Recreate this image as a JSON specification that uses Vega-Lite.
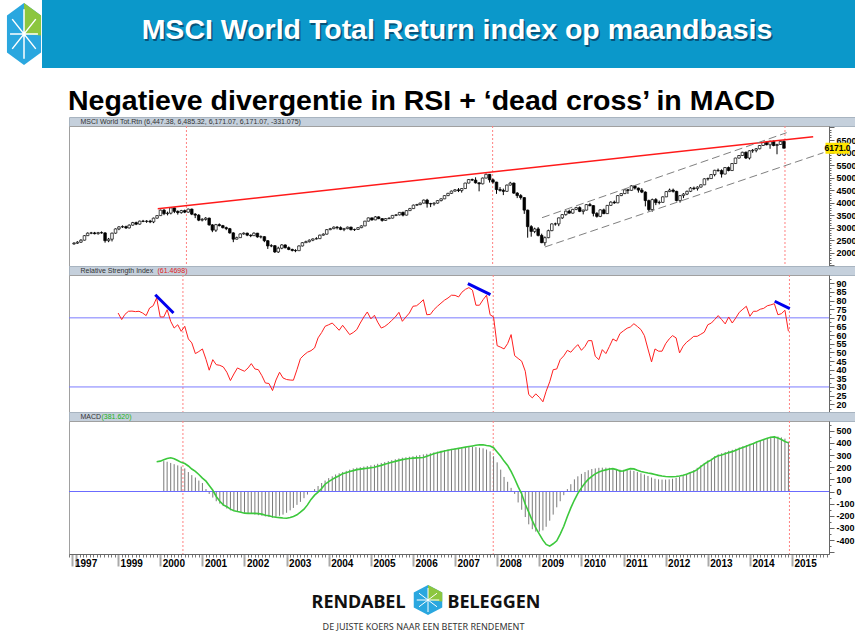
{
"$schema": "https://vega.github.io/schema/vega-lite/v6.json",
"padding": 0,
"background": "white",
"config": {"view": {"stroke": null}, "text": {"font": "Liberation Sans"}, "axis": {"labelFont": "Liberation Sans"}},
"datasets": {
"px": [
{"d":"1997/11/01","o":2350,"c":2380,"h":2420,"l":2320},{"d":"1997/12/01","o":2380,"c":2420,"h":2460,"l":2350},
{"d":"1998/01/01","o":2420,"c":2500,"h":2540,"l":2390},{"d":"1998/02/01","o":2500,"c":2680,"h":2700,"l":2490},{"d":"1998/03/01","o":2680,"c":2780,"h":2810,"l":2670},{"d":"1998/04/01","o":2780,"c":2790,"h":2830,"l":2740},{"d":"1998/05/01","o":2790,"c":2760,"h":2830,"l":2730},{"d":"1998/06/01","o":2760,"c":2800,"h":2830,"l":2720},{"d":"1998/07/01","o":2800,"c":2790,"h":2850,"l":2760},{"d":"1998/08/01","o":2790,"c":2480,"h":2820,"l":2400},{"d":"1998/09/01","o":2480,"c":2540,"h":2590,"l":2420},{"d":"1998/10/01","o":2540,"c":2780,"h":2800,"l":2450},{"d":"1998/11/01","o":2780,"c":2950,"h":2970,"l":2760},{"d":"1998/12/01","o":2950,"c":3030,"h":3060,"l":2900},
{"d":"1999/01/01","o":3030,"c":3040,"h":3090,"l":2990},{"d":"1999/02/01","o":3040,"c":2990,"h":3080,"l":2950},{"d":"1999/03/01","o":2990,"c":3100,"h":3130,"l":2970},{"d":"1999/04/01","o":3100,"c":3200,"h":3230,"l":3080},{"d":"1999/05/01","o":3200,"c":3140,"h":3240,"l":3100},{"d":"1999/06/01","o":3140,"c":3260,"h":3280,"l":3120},{"d":"1999/07/01","o":3260,"c":3250,"h":3310,"l":3220},{"d":"1999/08/01","o":3250,"c":3260,"h":3300,"l":3190},{"d":"1999/09/01","o":3260,"c":3230,"h":3310,"l":3180},{"d":"1999/10/01","o":3230,"c":3380,"h":3400,"l":3180},{"d":"1999/11/01","o":3380,"c":3480,"h":3500,"l":3360},{"d":"1999/12/01","o":3480,"c":3700,"h":3720,"l":3470},
{"d":"2000/01/01","o":3700,"c":3560,"h":3740,"l":3500},{"d":"2000/02/01","o":3560,"c":3580,"h":3640,"l":3490},{"d":"2000/03/01","o":3580,"c":3790,"h":3820,"l":3530},{"d":"2000/04/01","o":3790,"c":3650,"h":3800,"l":3580},{"d":"2000/05/01","o":3650,"c":3600,"h":3690,"l":3520},{"d":"2000/06/01","o":3600,"c":3680,"h":3710,"l":3560},{"d":"2000/07/01","o":3680,"c":3620,"h":3720,"l":3580},{"d":"2000/08/01","o":3620,"c":3740,"h":3760,"l":3600},{"d":"2000/09/01","o":3740,"c":3540,"h":3760,"l":3500},{"d":"2000/10/01","o":3540,"c":3500,"h":3580,"l":3380},{"d":"2000/11/01","o":3500,"c":3300,"h":3540,"l":3260},{"d":"2000/12/01","o":3300,"c":3330,"h":3380,"l":3250},
{"d":"2001/01/01","o":3330,"c":3380,"h":3420,"l":3280},{"d":"2001/02/01","o":3380,"c":3110,"h":3400,"l":3080},{"d":"2001/03/01","o":3110,"c":2900,"h":3140,"l":2820},{"d":"2001/04/01","o":2900,"c":3120,"h":3150,"l":2830},{"d":"2001/05/01","o":3120,"c":3080,"h":3170,"l":3050},{"d":"2001/06/01","o":3080,"c":3000,"h":3110,"l":2970},{"d":"2001/07/01","o":3000,"c":2960,"h":3040,"l":2900},{"d":"2001/08/01","o":2960,"c":2790,"h":2990,"l":2760},{"d":"2001/09/01","o":2790,"c":2540,"h":2820,"l":2420},{"d":"2001/10/01","o":2540,"c":2600,"h":2640,"l":2530},{"d":"2001/11/01","o":2600,"c":2750,"h":2770,"l":2590},{"d":"2001/12/01","o":2750,"c":2780,"h":2810,"l":2720},
{"d":"2002/01/01","o":2780,"c":2700,"h":2800,"l":2660},{"d":"2002/02/01","o":2700,"c":2680,"h":2730,"l":2620},{"d":"2002/03/01","o":2680,"c":2780,"h":2810,"l":2670},{"d":"2002/04/01","o":2780,"c":2630,"h":2790,"l":2600},{"d":"2002/05/01","o":2630,"c":2640,"h":2690,"l":2570},{"d":"2002/06/01","o":2640,"c":2480,"h":2660,"l":2420},{"d":"2002/07/01","o":2480,"c":2270,"h":2500,"l":2150},{"d":"2002/08/01","o":2270,"c":2280,"h":2340,"l":2220},{"d":"2002/09/01","o":2280,"c":2030,"h":2300,"l":1990},{"d":"2002/10/01","o":2030,"c":2180,"h":2240,"l":1990},{"d":"2002/11/01","o":2180,"c":2310,"h":2340,"l":2140},{"d":"2002/12/01","o":2310,"c":2200,"h":2330,"l":2170},
{"d":"2003/01/01","o":2200,"c":2130,"h":2250,"l":2100},{"d":"2003/02/01","o":2130,"c":2090,"h":2160,"l":2050},{"d":"2003/03/01","o":2090,"c":2080,"h":2140,"l":2020},{"d":"2003/04/01","o":2080,"c":2270,"h":2290,"l":2070},{"d":"2003/05/01","o":2270,"c":2400,"h":2420,"l":2250},{"d":"2003/06/01","o":2400,"c":2440,"h":2480,"l":2390},{"d":"2003/07/01","o":2440,"c":2500,"h":2530,"l":2410},{"d":"2003/08/01","o":2500,"c":2550,"h":2570,"l":2460},{"d":"2003/09/01","o":2550,"c":2560,"h":2620,"l":2530},{"d":"2003/10/01","o":2560,"c":2700,"h":2720,"l":2550},{"d":"2003/11/01","o":2700,"c":2740,"h":2770,"l":2680},{"d":"2003/12/01","o":2740,"c":2920,"h":2940,"l":2730},
{"d":"2004/01/01","o":2920,"c":2960,"h":2990,"l":2900},{"d":"2004/02/01","o":2960,"c":3020,"h":3050,"l":2940},{"d":"2004/03/01","o":3020,"c":3000,"h":3060,"l":2930},{"d":"2004/04/01","o":3000,"c":2930,"h":3050,"l":2900},{"d":"2004/05/01","o":2930,"c":2960,"h":2990,"l":2860},{"d":"2004/06/01","o":2960,"c":3020,"h":3040,"l":2940},{"d":"2004/07/01","o":3020,"c":2920,"h":3040,"l":2890},{"d":"2004/08/01","o":2920,"c":2930,"h":2960,"l":2870},{"d":"2004/09/01","o":2930,"c":3000,"h":3020,"l":2910},{"d":"2004/10/01","o":3000,"c":3070,"h":3090,"l":2980},{"d":"2004/11/01","o":3070,"c":3260,"h":3270,"l":3060},{"d":"2004/12/01","o":3260,"c":3390,"h":3400,"l":3250},
{"d":"2005/01/01","o":3390,"c":3310,"h":3400,"l":3280},{"d":"2005/02/01","o":3310,"c":3430,"h":3460,"l":3300},{"d":"2005/03/01","o":3430,"c":3360,"h":3450,"l":3340},{"d":"2005/04/01","o":3360,"c":3290,"h":3380,"l":3240},{"d":"2005/05/01","o":3290,"c":3360,"h":3380,"l":3270},{"d":"2005/06/01","o":3360,"c":3380,"h":3410,"l":3340},{"d":"2005/07/01","o":3380,"c":3490,"h":3500,"l":3370},{"d":"2005/08/01","o":3490,"c":3510,"h":3540,"l":3460},{"d":"2005/09/01","o":3510,"c":3610,"h":3620,"l":3490},{"d":"2005/10/01","o":3610,"c":3500,"h":3640,"l":3450},{"d":"2005/11/01","o":3500,"c":3680,"h":3700,"l":3490},{"d":"2005/12/01","o":3680,"c":3760,"h":3790,"l":3670},
{"d":"2006/01/01","o":3760,"c":3900,"h":3920,"l":3750},{"d":"2006/02/01","o":3900,"c":3920,"h":3950,"l":3870},{"d":"2006/03/01","o":3920,"c":3980,"h":4000,"l":3900},{"d":"2006/04/01","o":3980,"c":4100,"h":4120,"l":3970},{"d":"2006/05/01","o":4100,"c":3960,"h":4150,"l":3800},{"d":"2006/06/01","o":3960,"c":3950,"h":3990,"l":3820},{"d":"2006/07/01","o":3950,"c":3980,"h":4010,"l":3880},{"d":"2006/08/01","o":3980,"c":4080,"h":4100,"l":3960},{"d":"2006/09/01","o":4080,"c":4150,"h":4170,"l":4050},{"d":"2006/10/01","o":4150,"c":4280,"h":4290,"l":4140},{"d":"2006/11/01","o":4280,"c":4370,"h":4390,"l":4260},{"d":"2006/12/01","o":4370,"c":4460,"h":4480,"l":4350},
{"d":"2007/01/01","o":4460,"c":4510,"h":4540,"l":4440},{"d":"2007/02/01","o":4510,"c":4480,"h":4580,"l":4420},{"d":"2007/03/01","o":4480,"c":4560,"h":4580,"l":4400},{"d":"2007/04/01","o":4560,"c":4780,"h":4790,"l":4550},{"d":"2007/05/01","o":4780,"c":4920,"h":4940,"l":4770},{"d":"2007/06/01","o":4920,"c":4900,"h":4960,"l":4860},{"d":"2007/07/01","o":4900,"c":4790,"h":5010,"l":4760},{"d":"2007/08/01","o":4790,"c":4750,"h":4810,"l":4450},{"d":"2007/09/01","o":4750,"c":4980,"h":5000,"l":4730},{"d":"2007/10/01","o":4980,"c":5130,"h":5160,"l":4970},{"d":"2007/11/01","o":5130,"c":4910,"h":5140,"l":4800},{"d":"2007/12/01","o":4910,"c":4820,"h":4960,"l":4760},
{"d":"2008/01/01","o":4820,"c":4520,"h":4830,"l":4350},{"d":"2008/02/01","o":4520,"c":4490,"h":4620,"l":4440},{"d":"2008/03/01","o":4490,"c":4450,"h":4560,"l":4300},{"d":"2008/04/01","o":4450,"c":4700,"h":4720,"l":4430},{"d":"2008/05/01","o":4700,"c":4780,"h":4830,"l":4680},{"d":"2008/06/01","o":4780,"c":4380,"h":4800,"l":4350},{"d":"2008/07/01","o":4380,"c":4280,"h":4420,"l":4180},{"d":"2008/08/01","o":4280,"c":4200,"h":4340,"l":4120},{"d":"2008/09/01","o":4200,"c":3700,"h":4220,"l":3550},{"d":"2008/10/01","o":3700,"c":3040,"h":3720,"l":2600},{"d":"2008/11/01","o":3040,"c":2850,"h":3100,"l":2640},{"d":"2008/12/01","o":2850,"c":2950,"h":3000,"l":2780},
{"d":"2009/01/01","o":2950,"c":2690,"h":3020,"l":2650},{"d":"2009/02/01","o":2690,"c":2400,"h":2760,"l":2380},{"d":"2009/03/01","o":2400,"c":2600,"h":2650,"l":2280},{"d":"2009/04/01","o":2600,"c":2880,"h":2920,"l":2580},{"d":"2009/05/01","o":2880,"c":3150,"h":3170,"l":2860},{"d":"2009/06/01","o":3150,"c":3150,"h":3200,"l":3080},{"d":"2009/07/01","o":3150,"c":3390,"h":3400,"l":3060},{"d":"2009/08/01","o":3390,"c":3520,"h":3540,"l":3350},{"d":"2009/09/01","o":3520,"c":3660,"h":3680,"l":3480},{"d":"2009/10/01","o":3660,"c":3580,"h":3720,"l":3560},{"d":"2009/11/01","o":3580,"c":3730,"h":3750,"l":3560},{"d":"2009/12/01","o":3730,"c":3800,"h":3830,"l":3700},
{"d":"2010/01/01","o":3800,"c":3650,"h":3850,"l":3620},{"d":"2010/02/01","o":3650,"c":3700,"h":3720,"l":3530},{"d":"2010/03/01","o":3700,"c":3920,"h":3940,"l":3690},{"d":"2010/04/01","o":3920,"c":3880,"h":3990,"l":3850},{"d":"2010/05/01","o":3880,"c":3570,"h":3900,"l":3450},{"d":"2010/06/01","o":3570,"c":3450,"h":3620,"l":3400},{"d":"2010/07/01","o":3450,"c":3710,"h":3730,"l":3420},{"d":"2010/08/01","o":3710,"c":3560,"h":3760,"l":3540},{"d":"2010/09/01","o":3560,"c":3890,"h":3900,"l":3550},{"d":"2010/10/01","o":3890,"c":4020,"h":4050,"l":3880},{"d":"2010/11/01","o":4020,"c":3990,"h":4080,"l":3950},{"d":"2010/12/01","o":3990,"c":4280,"h":4300,"l":3980},
{"d":"2011/01/01","o":4280,"c":4360,"h":4380,"l":4260},{"d":"2011/02/01","o":4360,"c":4510,"h":4530,"l":4340},{"d":"2011/03/01","o":4510,"c":4490,"h":4540,"l":4350},{"d":"2011/04/01","o":4490,"c":4670,"h":4690,"l":4480},{"d":"2011/05/01","o":4670,"c":4580,"h":4700,"l":4520},{"d":"2011/06/01","o":4580,"c":4500,"h":4600,"l":4400},{"d":"2011/07/01","o":4500,"c":4420,"h":4580,"l":4380},{"d":"2011/08/01","o":4420,"c":4080,"h":4450,"l":3850},{"d":"2011/09/01","o":4080,"c":3720,"h":4120,"l":3650},{"d":"2011/10/01","o":3720,"c":4120,"h":4160,"l":3640},{"d":"2011/11/01","o":4120,"c":4000,"h":4180,"l":3900},{"d":"2011/12/01","o":4000,"c":4010,"h":4080,"l":3930},
{"d":"2012/01/01","o":4010,"c":4230,"h":4250,"l":4000},{"d":"2012/02/01","o":4230,"c":4440,"h":4460,"l":4220},{"d":"2012/03/01","o":4440,"c":4500,"h":4560,"l":4420},{"d":"2012/04/01","o":4500,"c":4450,"h":4560,"l":4400},{"d":"2012/05/01","o":4450,"c":4080,"h":4470,"l":4050},{"d":"2012/06/01","o":4080,"c":4280,"h":4300,"l":4000},{"d":"2012/07/01","o":4280,"c":4340,"h":4380,"l":4180},{"d":"2012/08/01","o":4340,"c":4450,"h":4480,"l":4300},{"d":"2012/09/01","o":4450,"c":4580,"h":4620,"l":4420},{"d":"2012/10/01","o":4580,"c":4560,"h":4640,"l":4500},{"d":"2012/11/01","o":4560,"c":4620,"h":4650,"l":4480},{"d":"2012/12/01","o":4620,"c":4710,"h":4730,"l":4600},
{"d":"2013/01/01","o":4710,"c":4950,"h":4970,"l":4700},{"d":"2013/02/01","o":4950,"c":4960,"h":5000,"l":4880},{"d":"2013/03/01","o":4960,"c":5120,"h":5140,"l":4950},{"d":"2013/04/01","o":5120,"c":5290,"h":5310,"l":5050},{"d":"2013/05/01","o":5290,"c":5280,"h":5360,"l":5230},{"d":"2013/06/01","o":5280,"c":5140,"h":5330,"l":5000},{"d":"2013/07/01","o":5140,"c":5400,"h":5420,"l":5130},{"d":"2013/08/01","o":5400,"c":5280,"h":5440,"l":5250},{"d":"2013/09/01","o":5280,"c":5560,"h":5580,"l":5270},{"d":"2013/10/01","o":5560,"c":5780,"h":5790,"l":5550},{"d":"2013/11/01","o":5780,"c":5880,"h":5900,"l":5760},{"d":"2013/12/01","o":5880,"c":6010,"h":6030,"l":5860},
{"d":"2014/01/01","o":6010,"c":5780,"h":6040,"l":5740},{"d":"2014/02/01","o":5780,"c":6070,"h":6090,"l":5720},{"d":"2014/03/01","o":6070,"c":6090,"h":6140,"l":5990},{"d":"2014/04/01","o":6090,"c":6150,"h":6180,"l":6010},{"d":"2014/05/01","o":6150,"c":6280,"h":6300,"l":6130},{"d":"2014/06/01","o":6280,"c":6400,"h":6420,"l":6270},{"d":"2014/07/01","o":6400,"c":6310,"h":6430,"l":6290},{"d":"2014/08/01","o":6310,"c":6450,"h":6470,"l":6150},{"d":"2014/09/01","o":6450,"c":6280,"h":6480,"l":6250},{"d":"2014/10/01","o":6280,"c":6320,"h":6350,"l":5930},{"d":"2014/11/01","o":6320,"c":6447,"h":6470,"l":6300},{"d":"2014/12/01","o":6447,"c":6171,"h":6485,"l":6171}
],
"rsi": [
{"d":"1999/01/01","v":72.8},{"d":"1999/02/01","v":69.0},{"d":"1999/03/01","v":72.0},{"d":"1999/04/01","v":73.8},{"d":"1999/05/01","v":73.9},{"d":"1999/06/01","v":73.6},{"d":"1999/07/01","v":73.8},{"d":"1999/08/01","v":72.8},{"d":"1999/09/01","v":71.3},{"d":"1999/10/01","v":75.7},{"d":"1999/11/01","v":77.0},{"d":"1999/12/01","v":81.5},
{"d":"2000/01/01","v":70.5},{"d":"2000/02/01","v":70.5},{"d":"2000/03/01","v":74.7},{"d":"2000/04/01","v":68.0},{"d":"2000/05/01","v":64.1},{"d":"2000/06/01","v":66.0},{"d":"2000/07/01","v":62.2},{"d":"2000/08/01","v":65.1},{"d":"2000/09/01","v":57.8},{"d":"2000/10/01","v":55.5},{"d":"2000/11/01","v":49.3},{"d":"2000/12/01","v":50.5},
{"d":"2001/01/01","v":52.0},{"d":"2001/02/01","v":46.0},{"d":"2001/03/01","v":39.7},{"d":"2001/04/01","v":45.8},{"d":"2001/05/01","v":42.9},{"d":"2001/06/01","v":42.5},{"d":"2001/07/01","v":41.6},{"d":"2001/08/01","v":38.5},{"d":"2001/09/01","v":33.7},{"d":"2001/10/01","v":37.5},{"d":"2001/11/01","v":41.0},{"d":"2001/12/01","v":40.0},
{"d":"2002/01/01","v":39.1},{"d":"2002/02/01","v":41.0},{"d":"2002/03/01","v":43.5},{"d":"2002/04/01","v":40.4},{"d":"2002/05/01","v":40.0},{"d":"2002/06/01","v":36.5},{"d":"2002/07/01","v":32.3},{"d":"2002/08/01","v":32.0},{"d":"2002/09/01","v":27.9},{"d":"2002/10/01","v":34.0},{"d":"2002/11/01","v":38.5},{"d":"2002/12/01","v":35.2},
{"d":"2003/01/01","v":34.3},{"d":"2003/02/01","v":34.0},{"d":"2003/03/01","v":33.9},{"d":"2003/04/01","v":40.0},{"d":"2003/05/01","v":46.4},{"d":"2003/06/01","v":48.5},{"d":"2003/07/01","v":50.1},{"d":"2003/08/01","v":51.0},{"d":"2003/09/01","v":52.6},{"d":"2003/10/01","v":58.4},{"d":"2003/11/01","v":61.5},{"d":"2003/12/01","v":65.1},
{"d":"2004/01/01","v":66.0},{"d":"2004/02/01","v":67.0},{"d":"2004/03/01","v":65.0},{"d":"2004/04/01","v":62.8},{"d":"2004/05/01","v":65.7},{"d":"2004/06/01","v":63.0},{"d":"2004/07/01","v":60.3},{"d":"2004/08/01","v":61.5},{"d":"2004/09/01","v":63.2},{"d":"2004/10/01","v":67.0},{"d":"2004/11/01","v":70.5},{"d":"2004/12/01","v":73.4},
{"d":"2005/01/01","v":69.4},{"d":"2005/02/01","v":71.5},{"d":"2005/03/01","v":67.5},{"d":"2005/04/01","v":64.1},{"d":"2005/05/01","v":65.0},{"d":"2005/06/01","v":66.6},{"d":"2005/07/01","v":68.5},{"d":"2005/08/01","v":70.5},{"d":"2005/09/01","v":73.2},{"d":"2005/10/01","v":68.0},{"d":"2005/11/01","v":70.5},{"d":"2005/12/01","v":72.8},
{"d":"2006/01/01","v":76.7},{"d":"2006/02/01","v":77.0},{"d":"2006/03/01","v":78.5},{"d":"2006/04/01","v":80.5},{"d":"2006/05/01","v":71.8},{"d":"2006/06/01","v":72.0},{"d":"2006/07/01","v":74.7},{"d":"2006/08/01","v":76.7},{"d":"2006/09/01","v":78.5},{"d":"2006/10/01","v":80.2},{"d":"2006/11/01","v":81.5},{"d":"2006/12/01","v":83.1},
{"d":"2007/01/01","v":83.0},{"d":"2007/02/01","v":82.1},{"d":"2007/03/01","v":84.8},{"d":"2007/04/01","v":86.5},{"d":"2007/05/01","v":87.5},{"d":"2007/06/01","v":86.0},{"d":"2007/07/01","v":77.3},{"d":"2007/08/01","v":77.3},{"d":"2007/09/01","v":80.5},{"d":"2007/10/01","v":83.1},{"d":"2007/11/01","v":71.8},{"d":"2007/12/01","v":70.5},
{"d":"2008/01/01","v":53.9},{"d":"2008/02/01","v":53.0},{"d":"2008/03/01","v":52.0},{"d":"2008/04/01","v":55.1},{"d":"2008/05/01","v":60.3},{"d":"2008/06/01","v":48.1},{"d":"2008/07/01","v":46.5},{"d":"2008/08/01","v":44.9},{"d":"2008/09/01","v":39.1},{"d":"2008/10/01","v":25.6},{"d":"2008/11/01","v":23.7},{"d":"2008/12/01","v":26.0},
{"d":"2009/01/01","v":24.0},{"d":"2009/02/01","v":21.4},{"d":"2009/03/01","v":27.5},{"d":"2009/04/01","v":33.0},{"d":"2009/05/01","v":40.0},{"d":"2009/06/01","v":40.4},{"d":"2009/07/01","v":45.8},{"d":"2009/08/01","v":48.0},{"d":"2009/09/01","v":51.2},{"d":"2009/10/01","v":50.1},{"d":"2009/11/01","v":52.5},{"d":"2009/12/01","v":54.5},
{"d":"2010/01/01","v":51.2},{"d":"2010/02/01","v":53.5},{"d":"2010/03/01","v":56.8},{"d":"2010/04/01","v":56.8},{"d":"2010/05/01","v":47.8},{"d":"2010/06/01","v":45.8},{"d":"2010/07/01","v":51.6},{"d":"2010/08/01","v":49.3},{"d":"2010/09/01","v":53.5},{"d":"2010/10/01","v":57.8},{"d":"2010/11/01","v":56.5},{"d":"2010/12/01","v":60.9},
{"d":"2011/01/01","v":62.5},{"d":"2011/02/01","v":64.0},{"d":"2011/03/01","v":64.7},{"d":"2011/04/01","v":66.6},{"d":"2011/05/01","v":65.0},{"d":"2011/06/01","v":63.2},{"d":"2011/07/01","v":59.7},{"d":"2011/08/01","v":52.0},{"d":"2011/09/01","v":44.5},{"d":"2011/10/01","v":52.0},{"d":"2011/11/01","v":50.7},{"d":"2011/12/01","v":50.7},
{"d":"2012/01/01","v":55.0},{"d":"2012/02/01","v":57.8},{"d":"2012/03/01","v":59.7},{"d":"2012/04/01","v":58.4},{"d":"2012/05/01","v":49.7},{"d":"2012/06/01","v":53.6},{"d":"2012/07/01","v":55.9},{"d":"2012/08/01","v":57.5},{"d":"2012/09/01","v":59.3},{"d":"2012/10/01","v":59.3},{"d":"2012/11/01","v":60.5},{"d":"2012/12/01","v":61.7},
{"d":"2013/01/01","v":66.0},{"d":"2013/02/01","v":67.0},{"d":"2013/03/01","v":69.0},{"d":"2013/04/01","v":71.3},{"d":"2013/05/01","v":69.0},{"d":"2013/06/01","v":66.5},{"d":"2013/07/01","v":70.5},{"d":"2013/08/01","v":67.0},{"d":"2013/09/01","v":70.0},{"d":"2013/10/01","v":73.2},{"d":"2013/11/01","v":75.0},{"d":"2013/12/01","v":76.7},
{"d":"2014/01/01","v":70.9},{"d":"2014/02/01","v":73.8},{"d":"2014/03/01","v":73.8},{"d":"2014/04/01","v":75.0},{"d":"2014/05/01","v":75.5},{"d":"2014/06/01","v":77.0},{"d":"2014/07/01","v":77.5},{"d":"2014/08/01","v":78.2},{"d":"2014/09/01","v":71.8},{"d":"2014/10/01","v":72.4},{"d":"2014/11/01","v":74.4},{"d":"2014/12/01","v":62.2}
],
"macd": [
{"d":"1999/12/01","s":245},
{"d":"2000/01/01","s":250},{"d":"2000/02/01","s":262,"h":250},{"d":"2000/03/01","s":272,"h":245},{"d":"2000/04/01","s":278,"h":235},{"d":"2000/05/01","s":270,"h":225},{"d":"2000/06/01","s":255,"h":215},{"d":"2000/07/01","s":240,"h":205},{"d":"2000/08/01","s":230,"h":190},{"d":"2000/09/01","s":210,"h":160},{"d":"2000/10/01","s":185,"h":135},{"d":"2000/11/01","s":165,"h":115},{"d":"2000/12/01","s":140,"h":90},
{"d":"2001/01/01","s":110,"h":70},{"d":"2001/02/01","s":85,"h":20},{"d":"2001/03/01","s":50,"h":-20},{"d":"2001/04/01","s":10,"h":-50},{"d":"2001/05/01","s":-41,"h":-80},{"d":"2001/06/01","s":-80,"h":-100},{"d":"2001/07/01","s":-110,"h":-120},{"d":"2001/08/01","s":-125,"h":-140},{"d":"2001/09/01","s":-145,"h":-155},{"d":"2001/10/01","s":-158,"h":-160},{"d":"2001/11/01","s":-165,"h":-165},{"d":"2001/12/01","s":-170,"h":-170},
{"d":"2002/01/01","s":-178,"h":-175},{"d":"2002/02/01","s":-180,"h":-180},{"d":"2002/03/01","s":-180,"h":-185},{"d":"2002/04/01","s":-180,"h":-190},{"d":"2002/05/01","s":-182,"h":-195},{"d":"2002/06/01","s":-186,"h":-200},{"d":"2002/07/01","s":-195,"h":-205},{"d":"2002/08/01","s":-200,"h":-210},{"d":"2002/09/01","s":-208,"h":-215},{"d":"2002/10/01","s":-212,"h":-210},{"d":"2002/11/01","s":-215,"h":-200},{"d":"2002/12/01","s":-218,"h":-190},
{"d":"2003/01/01","s":-220,"h":-175},{"d":"2003/02/01","s":-214,"h":-155},{"d":"2003/03/01","s":-205,"h":-135},{"d":"2003/04/01","s":-192,"h":-110},{"d":"2003/05/01","s":-170,"h":-85},{"d":"2003/06/01","s":-145,"h":-55},{"d":"2003/07/01","s":-110,"h":-25},{"d":"2003/08/01","s":-65,"h":0},{"d":"2003/09/01","s":-30,"h":20},{"d":"2003/10/01","s":-5,"h":45},{"d":"2003/11/01","s":25,"h":70},{"d":"2003/12/01","s":60,"h":90},
{"d":"2004/01/01","s":82,"h":110},{"d":"2004/02/01","s":100,"h":125},{"d":"2004/03/01","s":115,"h":140},{"d":"2004/04/01","s":130,"h":150},{"d":"2004/05/01","s":147,"h":160},{"d":"2004/06/01","s":155,"h":170},{"d":"2004/07/01","s":165,"h":180},{"d":"2004/08/01","s":172,"h":190},{"d":"2004/09/01","s":180,"h":196},{"d":"2004/10/01","s":184,"h":200},{"d":"2004/11/01","s":188,"h":205},{"d":"2004/12/01","s":192,"h":210},
{"d":"2005/01/01","s":196,"h":215},{"d":"2005/02/01","s":200,"h":220},{"d":"2005/03/01","s":208,"h":228},{"d":"2005/04/01","s":215,"h":235},{"d":"2005/05/01","s":225,"h":242},{"d":"2005/06/01","s":232,"h":250},{"d":"2005/07/01","s":240,"h":258},{"d":"2005/08/01","s":248,"h":265},{"d":"2005/09/01","s":256,"h":272},{"d":"2005/10/01","s":262,"h":278},{"d":"2005/11/01","s":267,"h":282},{"d":"2005/12/01","s":272,"h":286},
{"d":"2006/01/01","s":275,"h":290},{"d":"2006/02/01","s":277,"h":295},{"d":"2006/03/01","s":278,"h":300},{"d":"2006/04/01","s":280,"h":305},{"d":"2006/05/01","s":290,"h":310},{"d":"2006/06/01","s":300,"h":315},{"d":"2006/07/01","s":310,"h":322},{"d":"2006/08/01","s":318,"h":328},{"d":"2006/09/01","s":326,"h":335},{"d":"2006/10/01","s":333,"h":340},{"d":"2006/11/01","s":340,"h":345},{"d":"2006/12/01","s":345,"h":350},
{"d":"2007/01/01","s":350,"h":355},{"d":"2007/02/01","s":355,"h":358},{"d":"2007/03/01","s":360,"h":362},{"d":"2007/04/01","s":365,"h":365},{"d":"2007/05/01","s":370,"h":367},{"d":"2007/06/01","s":375,"h":368},{"d":"2007/07/01","s":380,"h":365},{"d":"2007/08/01","s":384,"h":360},{"d":"2007/09/01","s":384,"h":355},{"d":"2007/10/01","s":378,"h":345},{"d":"2007/11/01","s":375,"h":330},{"d":"2007/12/01","s":360,"h":290},
{"d":"2008/01/01","s":325,"h":240},{"d":"2008/02/01","s":290,"h":180},{"d":"2008/03/01","s":250,"h":120},{"d":"2008/04/01","s":215,"h":80},{"d":"2008/05/01","s":165,"h":30},{"d":"2008/06/01","s":105,"h":-20},{"d":"2008/07/01","s":40,"h":-90},{"d":"2008/08/01","s":-20,"h":-150},{"d":"2008/09/01","s":-105,"h":-210},{"d":"2008/10/01","s":-170,"h":-270},{"d":"2008/11/01","s":-240,"h":-310},{"d":"2008/12/01","s":-300,"h":-330},
{"d":"2009/01/01","s":-350,"h":-330},{"d":"2009/02/01","s":-400,"h":-320},{"d":"2009/03/01","s":-435,"h":-290},{"d":"2009/04/01","s":-449,"h":-240},{"d":"2009/05/01","s":-430,"h":-190},{"d":"2009/06/01","s":-405,"h":-130},{"d":"2009/07/01","s":-350,"h":-80},{"d":"2009/08/01","s":-286,"h":-30},{"d":"2009/09/01","s":-205,"h":20},{"d":"2009/10/01","s":-135,"h":60},{"d":"2009/11/01","s":-70,"h":100},{"d":"2009/12/01","s":-15,"h":125},
{"d":"2010/01/01","s":30,"h":145},{"d":"2010/02/01","s":70,"h":160},{"d":"2010/03/01","s":100,"h":175},{"d":"2010/04/01","s":125,"h":185},{"d":"2010/05/01","s":145,"h":190},{"d":"2010/06/01","s":160,"h":195},{"d":"2010/07/01","s":170,"h":196},{"d":"2010/08/01","s":178,"h":196},{"d":"2010/09/01","s":185,"h":195},{"d":"2010/10/01","s":188,"h":190},{"d":"2010/11/01","s":180,"h":185},{"d":"2010/12/01","s":168,"h":180},
{"d":"2011/01/01","s":170,"h":178},{"d":"2011/02/01","s":180,"h":176},{"d":"2011/03/01","s":188,"h":174},{"d":"2011/04/01","s":186,"h":170},{"d":"2011/05/01","s":175,"h":160},{"d":"2011/06/01","s":165,"h":150},{"d":"2011/07/01","s":158,"h":140},{"d":"2011/08/01","s":152,"h":128},{"d":"2011/09/01","s":147,"h":115},{"d":"2011/10/01","s":140,"h":105},{"d":"2011/11/01","s":133,"h":100},{"d":"2011/12/01","s":128,"h":98},
{"d":"2012/01/01","s":124,"h":98},{"d":"2012/02/01","s":122,"h":100},{"d":"2012/03/01","s":122,"h":105},{"d":"2012/04/01","s":124,"h":112},{"d":"2012/05/01","s":128,"h":120},{"d":"2012/06/01","s":133,"h":130},{"d":"2012/07/01","s":142,"h":145},{"d":"2012/08/01","s":155,"h":160},{"d":"2012/09/01","s":165,"h":175},{"d":"2012/10/01","s":180,"h":195},{"d":"2012/11/01","s":205,"h":215},{"d":"2012/12/01","s":225,"h":235},
{"d":"2013/01/01","s":245,"h":255},{"d":"2013/02/01","s":260,"h":270},{"d":"2013/03/01","s":280,"h":290},{"d":"2013/04/01","s":294,"h":305},{"d":"2013/05/01","s":300,"h":315},{"d":"2013/06/01","s":310,"h":325},{"d":"2013/07/01","s":320,"h":335},{"d":"2013/08/01","s":328,"h":343},{"d":"2013/09/01","s":340,"h":352},{"d":"2013/10/01","s":352,"h":362},{"d":"2013/11/01","s":362,"h":372},{"d":"2013/12/01","s":372,"h":382},
{"d":"2014/01/01","s":385,"h":392},{"d":"2014/02/01","s":395,"h":400},{"d":"2014/03/01","s":408,"h":410},{"d":"2014/04/01","s":418,"h":420},{"d":"2014/05/01","s":428,"h":430},{"d":"2014/06/01","s":438,"h":440},{"d":"2014/07/01","s":446,"h":450},{"d":"2014/08/01","s":449,"h":457},{"d":"2014/09/01","s":440,"h":452},{"d":"2014/10/01","s":428,"h":445},{"d":"2014/11/01","s":412,"h":435},{"d":"2014/12/01","s":400,"h":410}
],
"vl": [{"d":"2000/07/16"},{"d":"2007/11/28"},{"d":"2014/12/10"}],
"tl": [
{"k":"red","d1":"1999/11/07","v1":3757,"d2":"2015/08/15","v2":6630},
{"k":"dash","d1":"2009/02/04","v1":3398,"d2":"2014/12/25","v2":6792},
{"k":"dash","d1":"2009/03/01","v1":2228,"d2":"2015/11/13","v2":5994}
],
"div": [
{"d1":"1999/11/19","v1":83.4,"d2":"2000/04/25","v2":72.8},
{"d1":"2007/04/22","v1":89.8,"d2":"2007/11/04","v2":83.4},
{"d1":"2014/08/04","v1":79.6,"d2":"2014/12/13","v2":75.3}
],
"last": [{"d":"2015/11/18","v":6171,"t":"6171.0"}],
"hl": [{"y":70},{"y":30}],
"zl": [{"y":0}],
"one": [{"a":1}],
"none": []
},
"spacing": 0,
"vconcat": [
{
"spacing": 0,
"hconcat": [
{"width": 42, "height": 68, "data": {"name": "one"},
 "layer": [
  {"mark": {"type": "point", "shape": "M0,-1L0.55,-0.6L0.55,0.6L0,1L-0.55,0.6L-0.55,-0.6Z", "size": 3844, "filled": true, "fill": "#2aa7df", "opacity": 1, "strokeWidth": 0, "xOffset": 3}, "encoding": {}},
  {"mark": {"type": "point", "shape": "M0,0L0,-1L0.55,-0.6L0.55,0.05Z", "size": 3844, "filled": true, "fill": "#8cc63f", "opacity": 1, "strokeWidth": 0, "xOffset": 3}, "encoding": {}},
  {"mark": {"type": "point", "shape": "M-0.45,0L0.45,0M0,-0.8L0,0.8M-0.38,-0.48L0.38,0.48M-0.38,0.48L0.38,-0.48", "size": 3844, "filled": false, "stroke": "white", "strokeWidth": 1.5, "opacity": 1, "xOffset": 3}, "encoding": {}}
 ]},
{"width": 813, "height": 68, "data": {"name": "one"}, "view": {"fill": "#0b98ca", "stroke": null},
 "layer": [
  {"mark": {"type": "text", "text": "MSCI World  Total Return index op maandbasis", "font": "Liberation Sans", "fontWeight": "bold", "fontSize": 28.5, "color": "#06547a", "dx": 10, "dy": -2, "align": "center", "baseline": "middle"}, "encoding": {}},
  {"mark": {"type": "text", "text": "MSCI World  Total Return index op maandbasis", "font": "Liberation Sans", "fontWeight": "bold", "fontSize": 28.5, "color": "#ffffff", "dx": 8.5, "dy": -4, "align": "center", "baseline": "middle"}, "encoding": {}}
 ]}
]
},
{"width": 855, "height": 48, "data": {"name": "one"},
 "mark": {"type": "text", "text": "Negatieve divergentie in RSI + ‘dead cross’ in MACD", "font": "Liberation Sans", "fontWeight": "bold", "fontSize": 28.5, "color": "#000000", "align": "left", "baseline": "middle", "dx": -359.5, "dy": 9}, "encoding": {}},
{
"spacing": 0,
"hconcat": [
{"width": 68, "height": 1, "data": {"name": "none"}, "mark": {"type": "point"}, "encoding": {}},
{
"spacing": 0,
"bounds": "flush",
"vconcat": [
{"width": 787, "height": 9, "data": {"name": "one"}, "view": {"fill": "#c5d0dc", "stroke": "#a8b4c0"},
 "layer": [
  {"mark": {"type": "text", "text": "MSCI World Tot.Rtn (6,447.38, 6,485.32, 6,171.07, 6,171.07, -331.075)", "fontSize": 7, "color": "#333333", "align": "left", "baseline": "middle", "dx": -382}, "encoding": {}}
 ]},
{"width": 760, "height": 140, "view": {"stroke": "#a0a0a0"},
 "resolve": {"axis": {"y": "independent"}},
 "encoding": {"x": {"field": "d", "type": "temporal", "scale": {"domain": [{"year": 1997, "month": 11, "date": 1}, {"year": 2015, "month": 11, "date": 18}]}, "axis": null}},
 "layer": [
  {"data": {"name": "vl"}, "mark": {"type": "rule", "color": "#ff8080", "strokeDash": [2, 2], "strokeWidth": 1}},
  {"data": {"name": "px"}, "mark": {"type": "rule", "color": "#000000", "strokeWidth": 1},
   "encoding": {"y": {"field": "l", "type": "quantitative", "scale": {"domain": [1469, 7059], "nice": false, "zero": false},
     "axis": {"orient": "right", "title": null, "grid": false, "values": [1500,1600,1700,1800,1900,2000,2100,2200,2300,2400,2500,2600,2700,2800,2900,3000,3100,3200,3300,3400,3500,3600,3700,3800,3900,4000,4100,4200,4300,4400,4500,4600,4700,4800,4900,5000,5100,5200,5300,5400,5500,5600,5700,5800,5900,6000,6100,6200,6300,6400,6500,6600,6700,6800,6900,7000],
      "labelExpr": "datum.value % 500 == 0 && datum.value >= 2000 && datum.value <= 6500 ? datum.value : ''",
      "tickSize": {"condition": {"test": "datum.value % 500 == 0", "value": 5}, "value": 2},
      "labelFontSize": 9, "labelFontWeight": "bold", "labelColor": "#000000", "labelPadding": 2, "labelOverlap": false, "labelBound": false, "labelFlush": false,
      "domainColor": "#666666", "tickColor": "#666666"}},
    "y2": {"field": "h"}}},
  {"data": {"name": "px"}, "mark": {"type": "bar", "size": 2.6, "stroke": "#000000", "strokeWidth": 0.7},
   "encoding": {"y": {"field": "o", "type": "quantitative", "axis": null}, "y2": {"field": "c"},
    "fill": {"condition": {"test": "datum.c >= datum.o", "value": "#ffffff"}, "value": "#000000"}}},
  {"data": {"name": "tl"}, "transform": [{"filter": "datum.k == 'red'"}], "mark": {"type": "rule", "color": "#ff1a1a", "strokeWidth": 1.5},
   "encoding": {"x": {"field": "d1", "type": "temporal", "axis": null}, "x2": {"field": "d2"}, "y": {"field": "v1", "type": "quantitative", "axis": null}, "y2": {"field": "v2"}}},
  {"data": {"name": "tl"}, "transform": [{"filter": "datum.k == 'dash'"}], "mark": {"type": "rule", "color": "#808080", "strokeWidth": 1, "strokeDash": [8, 4]},
   "encoding": {"x": {"field": "d1", "type": "temporal", "axis": null}, "x2": {"field": "d2"}, "y": {"field": "v1", "type": "quantitative", "axis": null}, "y2": {"field": "v2"}}},
  {"data": {"name": "last"}, "mark": {"type": "point", "shape": "M-1,-0.46L1,-0.46L1,0.46L-1,0.46Z", "size": 576, "filled": true, "fill": "#ffe400", "opacity": 1, "strokeWidth": 0, "xOffset": 13.5},
   "encoding": {"y": {"field": "v", "type": "quantitative", "axis": null}}},
  {"data": {"name": "last"}, "mark": {"type": "text", "fontSize": 8.5, "fontWeight": "bold", "color": "#000000", "align": "center", "baseline": "middle", "dx": 13.5},
   "encoding": {"y": {"field": "v", "type": "quantitative", "axis": null}, "text": {"field": "t"}}}
 ]},
{"width": 787, "height": 9, "data": {"name": "one"}, "view": {"fill": "#c5d0dc", "stroke": "#a8b4c0"},
 "layer": [
  {"mark": {"type": "text", "text": "Relative Strength Index", "fontSize": 7, "color": "#333333", "align": "left", "baseline": "middle", "dx": -382}, "encoding": {}},
  {"mark": {"type": "text", "text": "(61.4698)", "fontSize": 7, "color": "#e02020", "align": "left", "baseline": "middle", "dx": -305}, "encoding": {}}
 ]},
{"width": 760, "height": 137, "view": {"stroke": "#a0a0a0"},
 "resolve": {"axis": {"y": "independent"}},
 "encoding": {"x": {"field": "d", "type": "temporal", "scale": {"domain": [{"year": 1997, "month": 11, "date": 1}, {"year": 2015, "month": 11, "date": 18}]}, "axis": null}},
 "layer": [
  {"data": {"name": "vl"}, "mark": {"type": "rule", "color": "#ff8080", "strokeDash": [2, 2], "strokeWidth": 1}},
  {"data": {"name": "hl"}, "mark": {"type": "rule", "color": "#7b7bff", "strokeWidth": 1},
   "encoding": {"x": null, "y": {"field": "y", "type": "quantitative", "scale": {"domain": [15.5, 94.8], "nice": false, "zero": false},
     "axis": {"orient": "right", "title": null, "grid": false, "values": [17.5,20,22.5,25,27.5,30,32.5,35,37.5,40,42.5,45,47.5,50,52.5,55,57.5,60,62.5,65,67.5,70,72.5,75,77.5,80,82.5,85,87.5,90,92.5],
      "labelExpr": "datum.value % 5 == 0 && datum.value >= 20 && datum.value <= 90 ? datum.value : ''",
      "tickSize": {"condition": {"test": "datum.value % 5 == 0", "value": 5}, "value": 2},
      "labelFontSize": 9, "labelFontWeight": "bold", "labelColor": "#000000", "labelPadding": 2, "labelOverlap": false, "labelBound": false, "labelFlush": false,
      "domainColor": "#666666", "tickColor": "#666666"}}}},
  {"data": {"name": "rsi"}, "mark": {"type": "line", "color": "#ff2020", "strokeWidth": 1},
   "encoding": {"y": {"field": "v", "type": "quantitative", "axis": null}}},
  {"data": {"name": "div"}, "mark": {"type": "rule", "color": "#0000ee", "strokeWidth": 3},
   "encoding": {"x": {"field": "d1", "type": "temporal", "axis": null}, "x2": {"field": "d2"}, "y": {"field": "v1", "type": "quantitative", "axis": null}, "y2": {"field": "v2"}}}
 ]},
{"width": 787, "height": 9, "data": {"name": "one"}, "view": {"fill": "#c5d0dc", "stroke": "#a8b4c0"},
 "layer": [
  {"mark": {"type": "text", "text": "MACD", "fontSize": 7, "color": "#333333", "align": "left", "baseline": "middle", "dx": -382}, "encoding": {}},
  {"mark": {"type": "text", "text": "(381.620)", "fontSize": 7, "color": "#20b020", "align": "left", "baseline": "middle", "dx": -361}, "encoding": {}}
 ]},
{"width": 760, "height": 133, "view": {"stroke": "#a0a0a0"},
 "resolve": {"axis": {"y": "independent"}},
 "encoding": {"x": {"field": "d", "type": "temporal", "scale": {"domain": [{"year": 1997, "month": 11, "date": 1}, {"year": 2015, "month": 11, "date": 18}]},
   "axis": {"orient": "bottom", "title": null, "grid": false, "tickCount": {"interval": "month", "step": 1},
    "labelExpr": "(month(datum.value) == 0 && year(datum.value) != 1998) || (year(datum.value) == 1997 && month(datum.value) == 11) ? timeFormat(datum.value, '%Y') : ''",
    "labelOverlap": false, "labelAlign": "left", "labelBaseline": "top", "labelPadding": -8, "labelOffset": 2, "labelBound": false, "labelFlush": false,
    "labelFontSize": 10, "labelFontWeight": "bold", "labelColor": "#000000",
    "tickSize": {"condition": {"test": "month(datum.value) == 0 || (year(datum.value) == 1997 && month(datum.value) == 11)", "value": 12}, "value": 3},
    "tickWidth": {"condition": {"test": "month(datum.value) == 0 || (year(datum.value) == 1997 && month(datum.value) == 11)", "value": 2}, "value": 1},
    "tickColor": {"condition": {"test": "month(datum.value) == 0 || (year(datum.value) == 1997 && month(datum.value) == 11)", "value": "#aaaaaa"}, "value": "#777777"},
    "domainColor": "#666666"}}},
 "layer": [
  {"data": {"name": "vl"}, "mark": {"type": "rule", "color": "#ff8080", "strokeDash": [2, 2], "strokeWidth": 1}},
  {"data": {"name": "macd"}, "mark": {"type": "rule", "color": "#7a7a7a", "strokeWidth": 1},
   "encoding": {"y": {"field": "h", "type": "quantitative", "scale": {"domain": [-514, 580], "nice": false, "zero": false},
     "axis": {"orient": "right", "title": null, "grid": false, "values": [-500,-450,-400,-350,-300,-250,-200,-150,-100,-50,0,50,100,150,200,250,300,350,400,450,500,550],
      "labelExpr": "datum.value % 100 == 0 && datum.value >= -400 && datum.value <= 500 ? datum.value : ''",
      "tickSize": {"condition": {"test": "datum.value % 100 == 0", "value": 5}, "value": 2},
      "labelFontSize": 9, "labelFontWeight": "bold", "labelColor": "#000000", "labelPadding": 2, "labelOverlap": false, "labelBound": false, "labelFlush": false,
      "domainColor": "#666666", "tickColor": "#666666"}},
    "y2": {"datum": 0}}},
  {"data": {"name": "zl"}, "mark": {"type": "rule", "color": "#6b6bff", "strokeWidth": 1},
   "encoding": {"x": null, "y": {"field": "y", "type": "quantitative", "axis": null}}},
  {"data": {"name": "macd"}, "mark": {"type": "line", "color": "#3cc83c", "strokeWidth": 1.6},
   "encoding": {"y": {"field": "s", "type": "quantitative", "axis": null}}}
 ]}
]
}
]
},
{"width": 855, "height": 70, "data": {"name": "one"},
 "layer": [
  {"mark": {"type": "text", "text": "RENDABEL", "font": "Noto Sans", "fontWeight": "bold", "fontSize": 18, "color": "#111111", "align": "right", "baseline": "middle", "dx": -22, "dy": -1}, "encoding": {}},
  {"mark": {"type": "text", "text": "BELEGGEN", "font": "Noto Sans", "fontWeight": "bold", "fontSize": 18, "color": "#111111", "align": "left", "baseline": "middle", "dx": 20, "dy": -1}, "encoding": {}},
  {"mark": {"type": "point", "shape": "M0,-1L0.95,-0.5L0.95,0.5L0,1L-0.95,0.5L-0.95,-0.5Z", "size": 900, "filled": true, "fill": "#2aa7df", "opacity": 1, "strokeWidth": 0, "xOffset": 0.5, "yOffset": -4}, "encoding": {}},
  {"mark": {"type": "point", "shape": "M0,0L0,-1L0.95,-0.5L0.95,0.1Z", "size": 900, "filled": true, "fill": "#8cc63f", "opacity": 1, "strokeWidth": 0, "xOffset": 0.5, "yOffset": -4}, "encoding": {}},
  {"mark": {"type": "point", "shape": "M-0.75,0L0.75,0M0,-0.8L0,0.8M-0.6,-0.45L0.6,0.45M-0.6,0.45L0.6,-0.45", "size": 900, "filled": false, "stroke": "white", "strokeWidth": 1, "opacity": 1, "xOffset": 0.5, "yOffset": -4}, "encoding": {}},
  {"mark": {"type": "text", "text": "DE JUISTE KOERS NAAR EEN BETER RENDEMENT", "font": "Noto Sans", "fontSize": 9, "color": "#333333", "align": "center", "baseline": "middle", "dx": -4, "dy": 23}, "encoding": {}}
 ]}
]
}
